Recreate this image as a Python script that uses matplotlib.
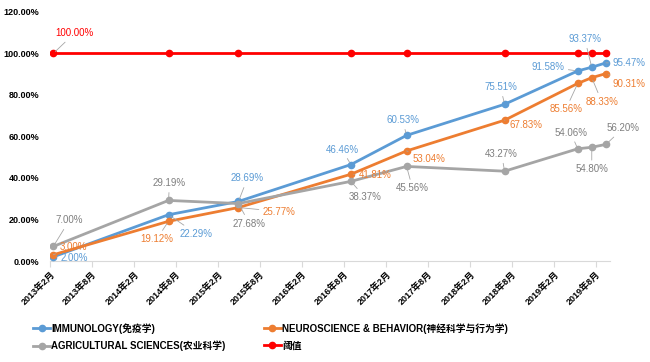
import numpy as np
import matplotlib.pyplot as plt
from datetime import date

plt.rcParams['font.family'] = ['Liberation Sans', 'Noto Sans CJK SC', 'DejaVu Sans']

# ---- data ----
dates = [date(2013, 2, 15), date(2014, 7, 1), date(2015, 5, 1), date(2016, 9, 1),
         date(2017, 5, 1), date(2018, 7, 1), date(2019, 5, 15), date(2019, 7, 15),
         date(2019, 9, 15)]
immunology = [2.00, 22.29, 28.69, 46.46, 60.53, 75.51, 91.58, 93.37, 95.47]
neuro = [3.00, 19.12, 25.77, 41.81, 53.04, 67.83, 85.56, 88.33, 90.31]
agri = [7.00, 29.19, 27.68, 38.37, 45.56, 43.27, 54.06, 54.80, 56.20]
threshold = [100.0] * len(dates)

names = ["IMMUNOLOGY(免疫学)", "NEUROSCIENCE & BEHAVIOR(神经科学与行为学)",
         "AGRICULTURAL SCIENCES(农业科学)", "阈值"]
colors = ["#5b9bd5", "#ed7d31", "#a5a5a5", "#ff0000"]
label_colors = ["#5b9bd5", "#ed7d31", "#7f7f7f", "#ff0000"]

# label offsets (pixels) for each point
off_imm = [(21, -1), (28, -19), (9, 23), (-9, 15), (-4, 15), (-4, 17), (-30, 4), (-7, 28), (23, 0)]
off_neu = [(20, 8), (-12, -18), (41, -4), (24, -1), (22, -8), (21, -5), (-12, -26), (10, -24), (23, -10)]
off_agr = [(16, 26), (1, 17), (11, -20), (14, -16), (6, -22), (-3, 17), (-7, 16), (0, -22), (17, 16)]

fig = plt.figure(figsize=(6.5, 3.62), dpi=100)
ax = fig.add_axes([0.077, 0.279, 0.861, 0.688])

series = [immunology, neuro, agri, threshold]
handles = []
for vals, c in zip(series, colors):
    h, = ax.plot(dates, vals, color=c, lw=2.0, marker='o', ms=4.5, zorder=3)
    handles.append(h)

def labels(vals, offs, color):
    for d, v, (dx, dy) in zip(dates, vals, offs):
        far = (dx * dx + dy * dy) ** 0.5 > 14
        ax.annotate(f"{v:.2f}%", (d, v), xytext=(dx, dy), textcoords='offset pixels',
                    ha='center', va='center', fontsize=7, color=color, zorder=4,
                    arrowprops=dict(arrowstyle='-', color='#a6a6a6', lw=0.6,
                                    shrinkA=1, shrinkB=2) if far else None)

labels(immunology, off_imm, label_colors[0])
labels(neuro, off_neu, label_colors[1])
labels(agri, off_agr, label_colors[2])
ax.annotate("100.00%", (dates[0], threshold[0]), xytext=(21, 20), textcoords='offset pixels',
            ha='center', va='center', fontsize=7, color=label_colors[3],
            arrowprops=dict(arrowstyle='-', color='#a6a6a6', lw=0.6, shrinkA=1, shrinkB=2))

ax.set_ylim(0, 120)
ax.set_yticks(np.arange(0, 121, 20))
ax.set_yticklabels([f"{v:.2f}%" for v in np.arange(0, 121, 20)], fontsize=6.5, fontweight='bold')
ax.set_xlim(date(2013, 2, 1), date(2019, 10, 1))

ticks = [date(y, m, 1) for y in range(2013, 2020) for m in (2, 8)]
ax.set_xticks(ticks)
ax.set_xticklabels([f"{t.year}年{t.month}月" for t in ticks], rotation=45, ha='right',
                   rotation_mode='anchor', fontsize=6.5, fontweight='bold')

for s in ['top', 'right', 'left']:
    ax.spines[s].set_visible(False)
ax.spines['bottom'].set_color('#d9d9d9')
ax.tick_params(axis='y', length=0, pad=8)
ax.tick_params(axis='x', color='#d9d9d9', length=4, pad=2)

fig.legend([handles[0], handles[2], handles[1], handles[3]],
           [names[0], names[2], names[1], names[3]],
           ncol=2, loc='lower left', bbox_to_anchor=(0.037, 0.005), frameon=False,
           prop={'size': 7, 'weight': 'bold'}, handlelength=1.8, handletextpad=0.1,
           columnspacing=3.9, labelspacing=0.75)

fig.savefig("out.png", dpi=100)
